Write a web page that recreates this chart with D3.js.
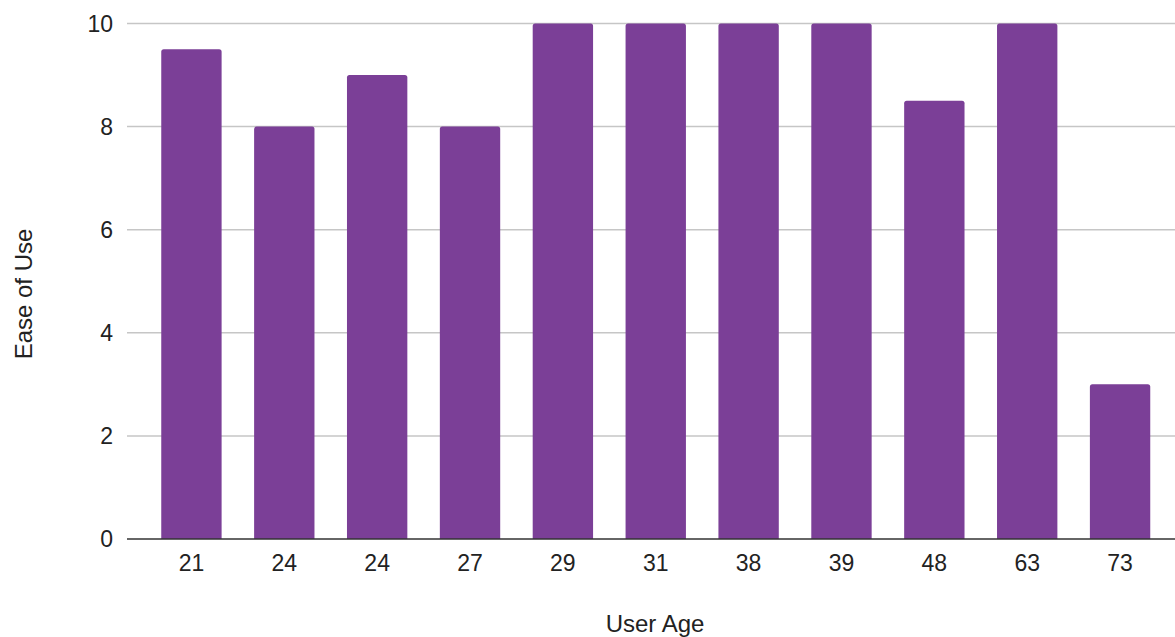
<!DOCTYPE html>
<html>
<head>
<meta charset="utf-8">
<script src="https://cdn.jsdelivr.net/npm/d3@7"></script>
<style>
  html, body { margin: 0; padding: 0; background: #fff; }
  svg { display: block; font-family: "Liberation Sans", Arial, sans-serif; }
</style>
</head>
<body>
<svg id="chart" width="1175" height="637"></svg>
<script>
const categories = ["21", "24", "24", "27", "29", "31", "38", "39", "48", "63", "73"];
const values = [9.5, 8, 9, 8, 10, 10, 10, 10, 8.5, 10, 3];
const yTicks = [0, 2, 4, 6, 8, 10];
const xTitle = "User Age";
const yTitle = "Ease of Use";

const svg = d3.select("#chart");
const plotLeft = 127, plotRight = 1175;
const y = d3.scaleLinear().domain([0, 10]).range([539, 23.5]);
const x = d3.scaleBand()
  .domain(d3.range(categories.length))
  .range([145, 1166.5])
  .paddingInner(0.35)
  .paddingOuter(0.175);

// gridlines
svg.append("g").selectAll("line")
  .data(yTicks.filter(d => d !== 0))
  .join("line")
  .attr("x1", plotLeft).attr("x2", plotRight)
  .attr("y1", d => y(d)).attr("y2", d => y(d))
  .attr("stroke", "#c6c6c6").attr("stroke-width", 1.5);

// y tick labels
svg.append("g").selectAll("text")
  .data(yTicks)
  .join("text")
  .attr("x", 113).attr("y", d => y(d))
  .attr("dy", "0.35em")
  .attr("text-anchor", "end")
  .attr("font-size", 23)
  .attr("fill", "#222")
  .text(d => d);

// bars
const bw = x.bandwidth();
svg.append("g").selectAll("path")
  .data(values)
  .join("path")
  .attr("d", (d, i) => {
    const x0 = x(i), x1 = x(i) + bw, yt = y(d), yb = y(0), r = 2.5;
    return `M${x0},${yb}L${x0},${yt + r}Q${x0},${yt} ${x0 + r},${yt}L${x1 - r},${yt}Q${x1},${yt} ${x1},${yt + r}L${x1},${yb}Z`;
  })
  .attr("fill", "#7b3f97");

// baseline
svg.append("line")
  .attr("x1", plotLeft).attr("x2", plotRight)
  .attr("y1", y(0)).attr("y2", y(0))
  .attr("stroke", "#333").attr("stroke-width", 1.5);

// x tick labels
svg.append("g").selectAll("text")
  .data(categories)
  .join("text")
  .attr("x", (d, i) => x(i) + bw / 2)
  .attr("y", 571)
  .attr("text-anchor", "middle")
  .attr("font-size", 23)
  .attr("fill", "#222")
  .text(d => d);

// axis titles
svg.append("text")
  .attr("x", 655).attr("y", 632)
  .attr("text-anchor", "middle")
  .attr("font-size", 24)
  .attr("fill", "#222")
  .text(xTitle);

svg.append("text")
  .attr("transform", `translate(31.5,294) rotate(-90)`)
  .attr("text-anchor", "middle")
  .attr("font-size", 24)
  .attr("fill", "#222")
  .text(yTitle);
</script>
</body>
</html>
